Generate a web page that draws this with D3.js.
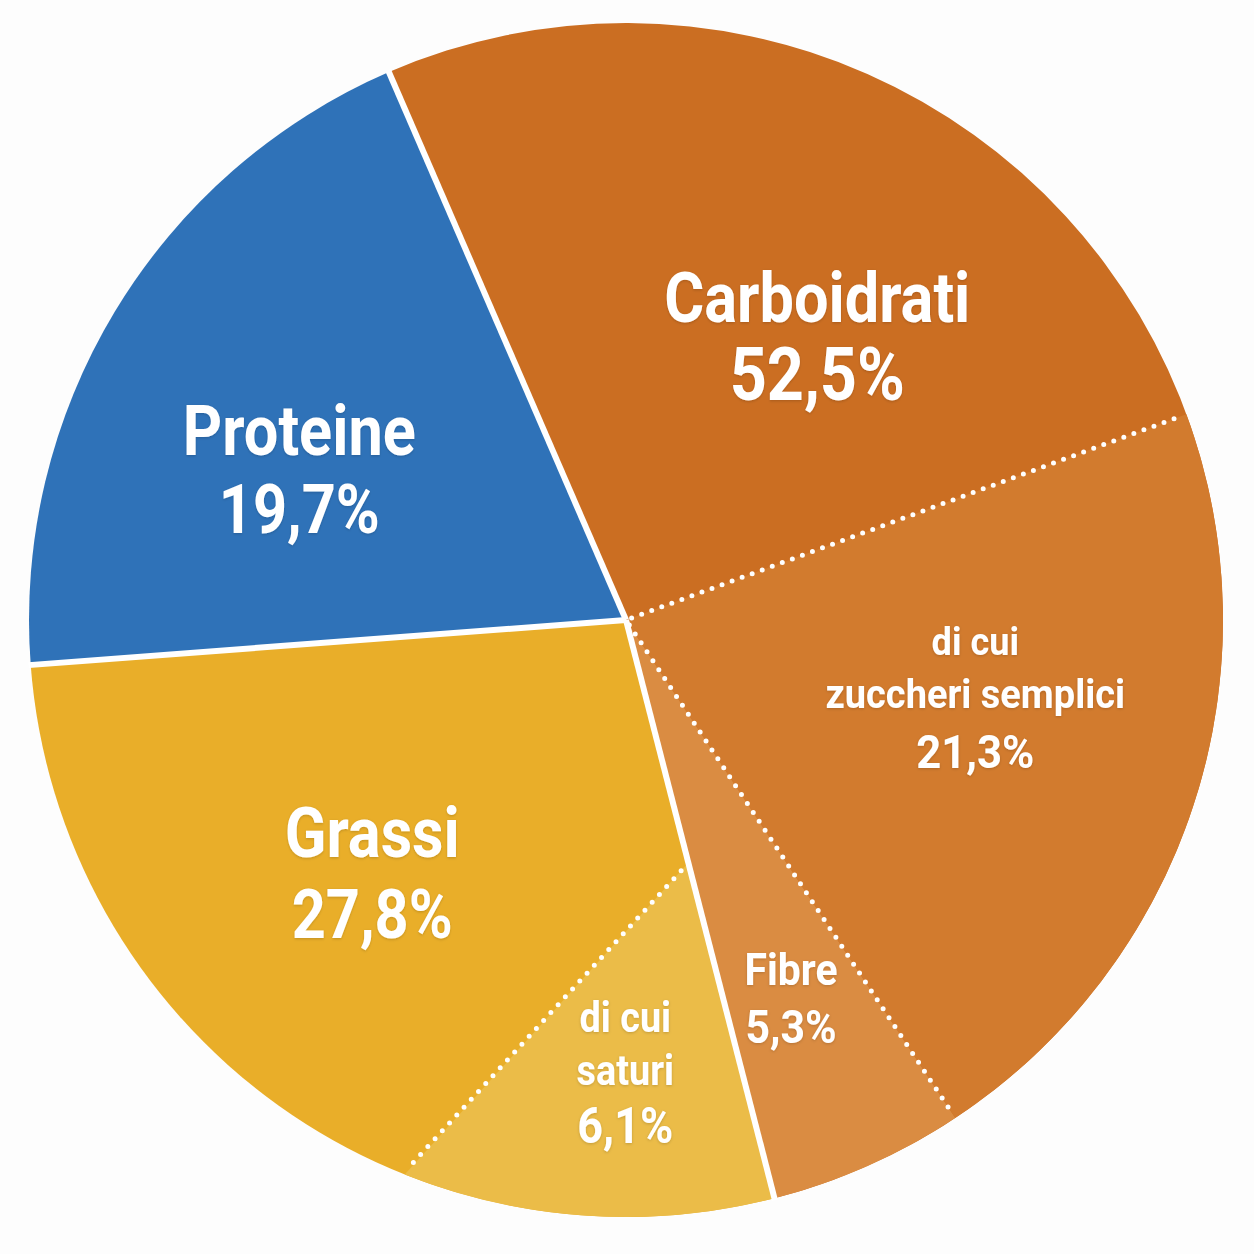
<!DOCTYPE html>
<html>
<head>
<meta charset="utf-8">
<script src="https://cdn.jsdelivr.net/npm/d3@7"></script>
<style>
  html, body { margin: 0; padding: 0; background: #fdfdfd; }
  svg { display: block; }
  text { font-family: Roboto, "Noto Sans", sans-serif; font-weight: 700; fill: #fff; }
</style>
</head>
<body>
<script>

// main slices
var categories = ["Carboidrati", "Grassi", "Proteine"];
var values     = [52.5, 27.8, 19.7];

// "di cui" slices, each one inside its parent
var subCategories = ["zuccheri semplici", "Fibre", "saturi"];
var subValues     = [21.3, 5.3, 6.1];
var subParents    = ["Carboidrati", "Carboidrati", "Grassi"];
var subPrefix     = ["di cui", "", "di cui"];


var size_graph = {x: 1254, y: 1254};
var cx = 626, cy = 620, R = 597;
var start = -23.4 * Math.PI / 180;

var colors = {
	"Carboidrati": "#cb6e22",
	"Grassi": "#e9ae29",
	"Proteine": "#2f72b8",
	"zuccheri semplici": "#d27b2e",
	"Fibre": "#da8c42",
	"saturi": "#ebbc48"
};

// label placement: polar angle (deg, clockwise from top) and radius of the first baseline
var labelLayout = {
	"Carboidrati":       {a: 32.7,   r: 354, sx: 0.875, sizes: [70, 74],     dy: [0, 78]},
	"Proteine":          {a: -63.2,  r: 366, sx: 0.875, sizes: [70, 68],     dy: [0, 78]},
	"Grassi":            {a: -133.0, r: 347, sx: 0.875, sizes: [70, 68],     dy: [0, 81]},
	"zuccheri semplici": {a: 95.7,   r: 351, sx: 0.95,  sizes: [38, 40, 46], dy: [0, 53, 113]},
	"Fibre":             {a: 155.7,  r: 401, sx: 0.93,  sizes: [44, 46],     dy: [0, 58]},
	"saturi":            {a: 180.1,  r: 412, sx: 0.9,   sizes: [42, 42, 50], dy: [0, 53, 111]}
};

var fmt = d3.formatLocale({decimal: ",", thousands: ".", grouping: [3], currency: ["", "€"]}).format(".1f");

var angle = d3.scaleLinear().domain([0, 100]).range([start, start + 2 * Math.PI]);
var span = v => angle(v) - angle(0);

var pie = d3.pie().sort(null).value(d => d.v)
	.startAngle(start).endAngle(start + 2 * Math.PI);
var arcs = pie(categories.map((c, i) => ({name: c, v: values[i]})));
var arcGen = d3.arc().innerRadius(0).outerRadius(R);
var byName = {};
arcs.forEach(d => byName[d.data.name] = d);

var svg = d3.select("body").append("svg")
	.attr("width", size_graph.x)
	.attr("height", size_graph.y);

var defs = svg.append("defs");
defs.append("filter").attr("id", "shadow")
	.attr("x", "-10%").attr("y", "-10%").attr("width", "120%").attr("height", "120%")
	.append("feDropShadow")
	.attr("dx", 0).attr("dy", 1)
	.attr("stdDeviation", 1.5)
	.attr("flood-color", "#000")
	.attr("flood-opacity", 0.18);

var g = svg.append("g").attr("transform", `translate(${cx},${cy})`);

g.selectAll(".main")
	.data(arcs)
	.enter().append("path")
	.attr("class", "main")
	.attr("d", arcGen)
	.attr("fill", d => colors[d.data.name]);

// carbohydrate subs packed at the end of their parent
var subs = [];
var carbEnd = byName["Carboidrati"].endAngle;
for (var i = subCategories.length - 1; i >= 0; i--) {
	if (subParents[i] !== "Carboidrati") continue;
	subs.push({name: subCategories[i], startAngle: carbEnd - span(subValues[i]), endAngle: carbEnd});
	carbEnd -= span(subValues[i]);
}

g.selectAll(".sub")
	.data(subs)
	.enter().append("path")
	.attr("class", "sub")
	.attr("d", arcGen)
	.attr("fill", d => colors[d.name]);

// saturi: wedge hanging off the fat boundary, sized so its area is its share
var k = 0.42;
var satIdx = subCategories.indexOf("saturi");
var target = subValues[satIdx] / 100 * 2 * Math.PI;
var lo = 0, hi = Math.PI;
for (var it = 0; it < 60; it++) {
	var mid = (lo + hi) / 2;
	if (mid - k * Math.sin(mid) < target) lo = mid; else hi = mid;
}
var satA0 = byName["Grassi"].startAngle, satA1 = satA0 + lo;
var apex = [k * R * Math.sin(satA0), -k * R * Math.cos(satA0)];
var satPath = d3.path();
satPath.moveTo(apex[0], apex[1]);
satPath.lineTo(R * Math.sin(satA0), -R * Math.cos(satA0));
satPath.arc(0, 0, R, satA0 - Math.PI / 2, satA1 - Math.PI / 2);
satPath.closePath();

g.append("path")
	.attr("d", satPath.toString())
	.attr("fill", colors["saturi"]);

// dotted separators of the "di cui" parts
var dotted = subs.map(d => ({a: d.startAngle, from: [6 * Math.sin(d.startAngle), -6 * Math.cos(d.startAngle)]}));
dotted.push({a: satA1, from: apex});
g.selectAll(".dot")
	.data(dotted)
	.enter().append("line")
	.attr("x1", d => d.from[0])
	.attr("y1", d => d.from[1])
	.attr("x2", d => (R - 5) * Math.sin(d.a))
	.attr("y2", d => -(R - 5) * Math.cos(d.a))
	.attr("stroke", "#fff")
	.attr("stroke-width", 5)
	.attr("stroke-linecap", "round")
	.attr("stroke-dasharray", "0 10.7");

// solid separators of the main slices
g.selectAll(".sep")
	.data(arcs.map(d => d.startAngle))
	.enter().append("line")
	.attr("x1", 0).attr("y1", 0)
	.attr("x2", a => (R + 2) * Math.sin(a))
	.attr("y2", a => -(R + 2) * Math.cos(a))
	.attr("stroke", "#fff")
	.attr("stroke-width", 6);

// labels
var labels = categories.map((c, i) => ({name: c, lines: [c, fmt(values[i]) + "%"]}))
	.concat(subCategories.map((c, i) => ({
		name: c,
		lines: (subPrefix[i] ? [subPrefix[i]] : []).concat([c, fmt(subValues[i]) + "%"])
	})));

labels.forEach(function(l) {
	var lay = labelLayout[l.name];
	var a = lay.a * Math.PI / 180;
	var t = g.append("text")
		.attr("text-anchor", "middle")
		.attr("filter", "url(#shadow)")
		.attr("transform", `translate(${lay.r * Math.sin(a)},${-lay.r * Math.cos(a)}) scale(${lay.sx},1)`);
	l.lines.forEach(function(line, j) {
		t.append("tspan")
			.attr("x", 0)
			.attr("y", lay.dy[j])
			.style("font-size", lay.sizes[j] + "px")
			.text(line);
	});
});

</script>
</body>
</html>
